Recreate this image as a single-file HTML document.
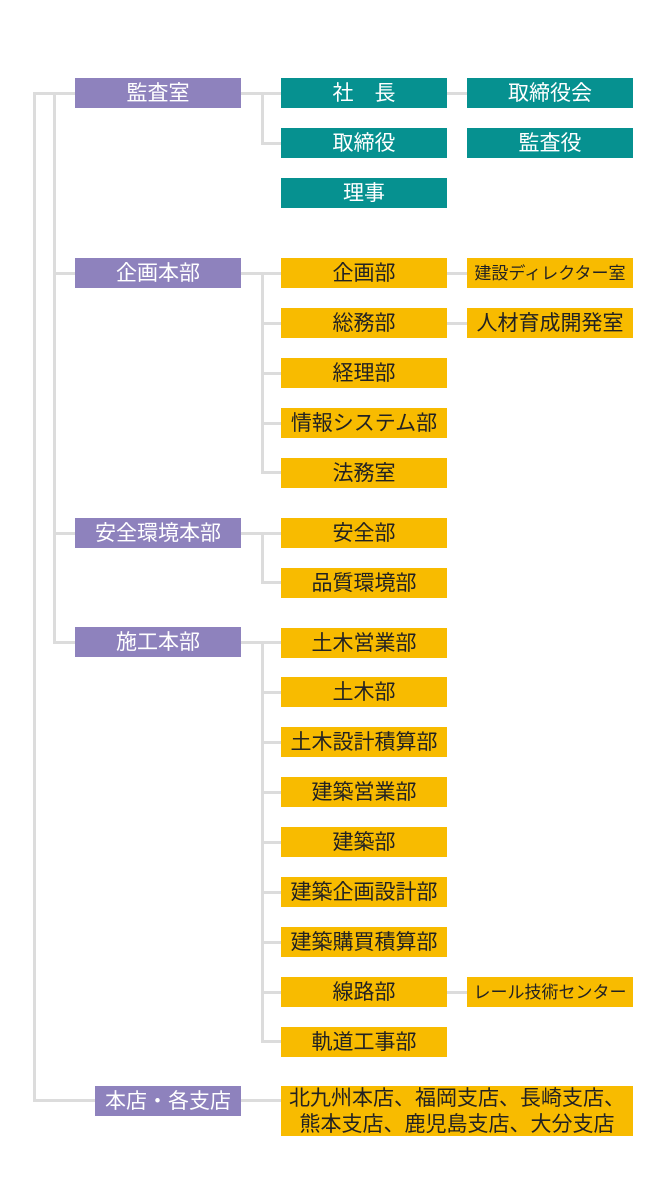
<!DOCTYPE html><html><head><meta charset="utf-8"><style>
body{margin:0;width:666px;height:1186px;background:#fff;position:relative;font-family:"Liberation Sans","Noto Sans CJK JP",sans-serif;overflow:hidden}
.b{position:absolute;height:30px;line-height:32px;text-align:center;font-size:21px;white-space:nowrap;overflow:hidden}
.p{background:#8e82bd;color:#fff;left:75px;width:166px}
.t{background:#069190;color:#fff;width:166px}
.y{background:#f8bb00;color:#222;width:166px}
.l{position:absolute;background:#dcdcdc}
</style></head><body>
<div class="l" style="left:33px;top:92px;width:3px;height:1010px"></div>
<div class="l" style="left:33px;top:92px;width:42px;height:3px"></div>
<div class="l" style="left:33px;top:1099px;width:62px;height:3px"></div>
<div class="l" style="left:53px;top:92px;width:3px;height:551px"></div>
<div class="l" style="left:53px;top:272px;width:22px;height:3px"></div>
<div class="l" style="left:53px;top:532px;width:22px;height:3px"></div>
<div class="l" style="left:53px;top:641px;width:22px;height:3px"></div>
<div class="l" style="left:241px;top:92px;width:40px;height:3px"></div>
<div class="l" style="left:261px;top:92px;width:3px;height:52px"></div>
<div class="l" style="left:261px;top:142px;width:20px;height:3px"></div>
<div class="l" style="left:447px;top:92px;width:20px;height:3px"></div>
<div class="l" style="left:241px;top:272px;width:40px;height:3px"></div>
<div class="l" style="left:261px;top:272px;width:3px;height:201px"></div>
<div class="l" style="left:261px;top:322px;width:20px;height:3px"></div>
<div class="l" style="left:261px;top:372px;width:20px;height:3px"></div>
<div class="l" style="left:261px;top:422px;width:20px;height:3px"></div>
<div class="l" style="left:261px;top:471px;width:20px;height:3px"></div>
<div class="l" style="left:447px;top:272px;width:20px;height:3px"></div>
<div class="l" style="left:447px;top:322px;width:20px;height:3px"></div>
<div class="l" style="left:241px;top:532px;width:40px;height:3px"></div>
<div class="l" style="left:261px;top:532px;width:3px;height:51px"></div>
<div class="l" style="left:261px;top:581px;width:20px;height:3px"></div>
<div class="l" style="left:241px;top:641px;width:40px;height:3px"></div>
<div class="l" style="left:261px;top:641px;width:3px;height:401px"></div>
<div class="l" style="left:261px;top:691px;width:20px;height:3px"></div>
<div class="l" style="left:261px;top:741px;width:20px;height:3px"></div>
<div class="l" style="left:261px;top:791px;width:20px;height:3px"></div>
<div class="l" style="left:261px;top:841px;width:20px;height:3px"></div>
<div class="l" style="left:261px;top:891px;width:20px;height:3px"></div>
<div class="l" style="left:261px;top:941px;width:20px;height:3px"></div>
<div class="l" style="left:261px;top:991px;width:20px;height:3px"></div>
<div class="l" style="left:261px;top:1040px;width:20px;height:3px"></div>
<div class="l" style="left:447px;top:991px;width:20px;height:3px"></div>
<div class="l" style="left:241px;top:1099px;width:40px;height:3px"></div>
<div class="b p" style="top:78px">監査室</div>
<div class="b p" style="top:258px">企画本部</div>
<div class="b p" style="top:518px">安全環境本部</div>
<div class="b p" style="top:627px">施工本部</div>
<div class="b p" style="top:1086px;left:95px;width:146px">本店・各支店</div>
<div class="b t" style="left:281px;top:78px">社　長</div>
<div class="b t" style="left:467px;top:78px">取締役会</div>
<div class="b t" style="left:281px;top:128px">取締役</div>
<div class="b t" style="left:467px;top:128px">監査役</div>
<div class="b t" style="left:281px;top:178px">理事</div>
<div class="b y" style="left:281px;top:258px">企画部</div>
<div class="b y" style="left:467px;top:258px;font-size:17px">建設ディレクター室</div>
<div class="b y" style="left:281px;top:308px">総務部</div>
<div class="b y" style="left:467px;top:308px">人材育成開発室</div>
<div class="b y" style="left:281px;top:358px">経理部</div>
<div class="b y" style="left:281px;top:408px">情報システム部</div>
<div class="b y" style="left:281px;top:458px">法務室</div>
<div class="b y" style="left:281px;top:518px">安全部</div>
<div class="b y" style="left:281px;top:568px">品質環境部</div>
<div class="b y" style="left:281px;top:628px">土木営業部</div>
<div class="b y" style="left:281px;top:677px">土木部</div>
<div class="b y" style="left:281px;top:727px">土木設計積算部</div>
<div class="b y" style="left:281px;top:777px">建築営業部</div>
<div class="b y" style="left:281px;top:827px">建築部</div>
<div class="b y" style="left:281px;top:877px">建築企画設計部</div>
<div class="b y" style="left:281px;top:927px">建築購買積算部</div>
<div class="b y" style="left:281px;top:977px">線路部</div>
<div class="b y" style="left:467px;top:977px;font-size:17px">レール技術センター</div>
<div class="b y" style="left:281px;top:1027px">軌道工事部</div>
<div class="b y" style="left:281px;top:1086px;width:352px;height:50px;line-height:26px">北九州本店、福岡支店、長崎支店、<br>熊本支店、鹿児島支店、大分支店</div>
</body></html>
